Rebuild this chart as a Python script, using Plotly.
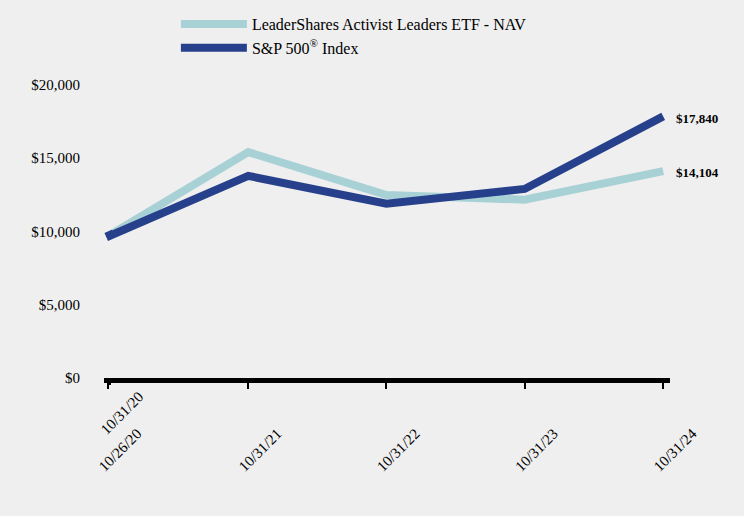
import plotly.graph_objects as go

dates = ["2020-10-26", "2020-10-31", "2021-10-31", "2022-10-31", "2023-10-31", "2024-10-31"]
tick_labels = ["10/26/20", "10/31/20", "10/31/21", "10/31/22", "10/31/23", "10/31/24"]
etf_name = "LeaderShares Activist Leaders ETF - NAV"
idx_name = "S&P 500<sup>®</sup> Index"
etf_values = [10000, 9750, 15400, 12480, 12160, 14104]
idx_values = [10000, 9700, 13780, 11880, 12890, 17840]
y_ticks = [0, 5000, 10000, 15000, 20000]
y_tick_labels = ["$0", "$5,000", "$10,000", "$15,000", "$20,000"]

LIGHT = "#a8d1d6"
DARK = "#27408b"
BG = "#efefef"
FONT = "Liberation Serif"

# main axis ticks: all except the 10/31/20 one (drawn on an overlaid axis, label raised)
main_tickvals = [d for i, d in enumerate(dates) if i != 1]
main_ticktext = [t for i, t in enumerate(tick_labels) if i != 1]

fig = go.Figure()
fig.add_trace(go.Scatter(x=dates, y=etf_values, mode="lines", name=etf_name,
                         line=dict(color=LIGHT, width=8), hoverinfo="x+y"))
fig.add_trace(go.Scatter(x=dates, y=idx_values, mode="lines", name=idx_name,
                         line=dict(color=DARK, width=8), hoverinfo="x+y"))
# invisible helper so the overlaid axis is drawn
fig.add_trace(go.Scatter(x=[dates[1]], y=[idx_values[1]], xaxis="x2", mode="markers",
                         marker=dict(opacity=0), showlegend=False, hoverinfo="skip"))

for vals, ys in ((idx_values, -2), (etf_values, -1)):
    fig.add_annotation(x=dates[-1], y=vals[-1], text=f"<b>${vals[-1]:,}</b>",
                       showarrow=False, xanchor="left", yanchor="middle", xshift=11, yshift=ys,
                       font=dict(family=FONT, size=13, color="#000"))


def xaxis_style():
    return dict(type="date", range=["2020-10-15", "2024-11-18"], tickangle=-45,
                showgrid=False, zeroline=False,
                ticks="outside", ticklen=6, tickwidth=1.5, tickcolor="#000",
                tickfont=dict(family=FONT, size=15, color="#000"), ticklabelshift=29)


fig.update_layout(
    width=744, height=516,
    paper_bgcolor=BG, plot_bgcolor=BG,
    margin=dict(l=104, r=74, t=70, b=138, autoexpand=False),
    font=dict(family=FONT, size=15, color="#000"),
    showlegend=True,
    legend=dict(x=0.127, y=1.2045, xanchor="left", yanchor="top", itemwidth=66,
                font=dict(family=FONT, size=16), bgcolor="rgba(0,0,0,0)",
                tracegroupgap=0),
    xaxis=dict(**xaxis_style(), tickmode="array", tickvals=main_tickvals, ticktext=main_ticktext,
               showline=True, linecolor="#000", linewidth=5, ticklabelstandoff=30),
    xaxis2=dict(**xaxis_style(), overlaying="x", matches="x", anchor="y", side="bottom",
                tickmode="array", tickvals=[dates[1]], ticktext=[tick_labels[1]],
                showline=False, ticklabelstandoff=-3),
    yaxis=dict(range=[0, 21000], tickvals=y_ticks, ticktext=y_tick_labels,
               showgrid=False, zeroline=False, showline=False,
               ticks="", tickfont=dict(family=FONT, size=15, color="#000"), ticklabelstandoff=23),
)

fig.write_html("out.html", config={"displayModeBar": False},
               post_script="document.body.style.margin='0';")
